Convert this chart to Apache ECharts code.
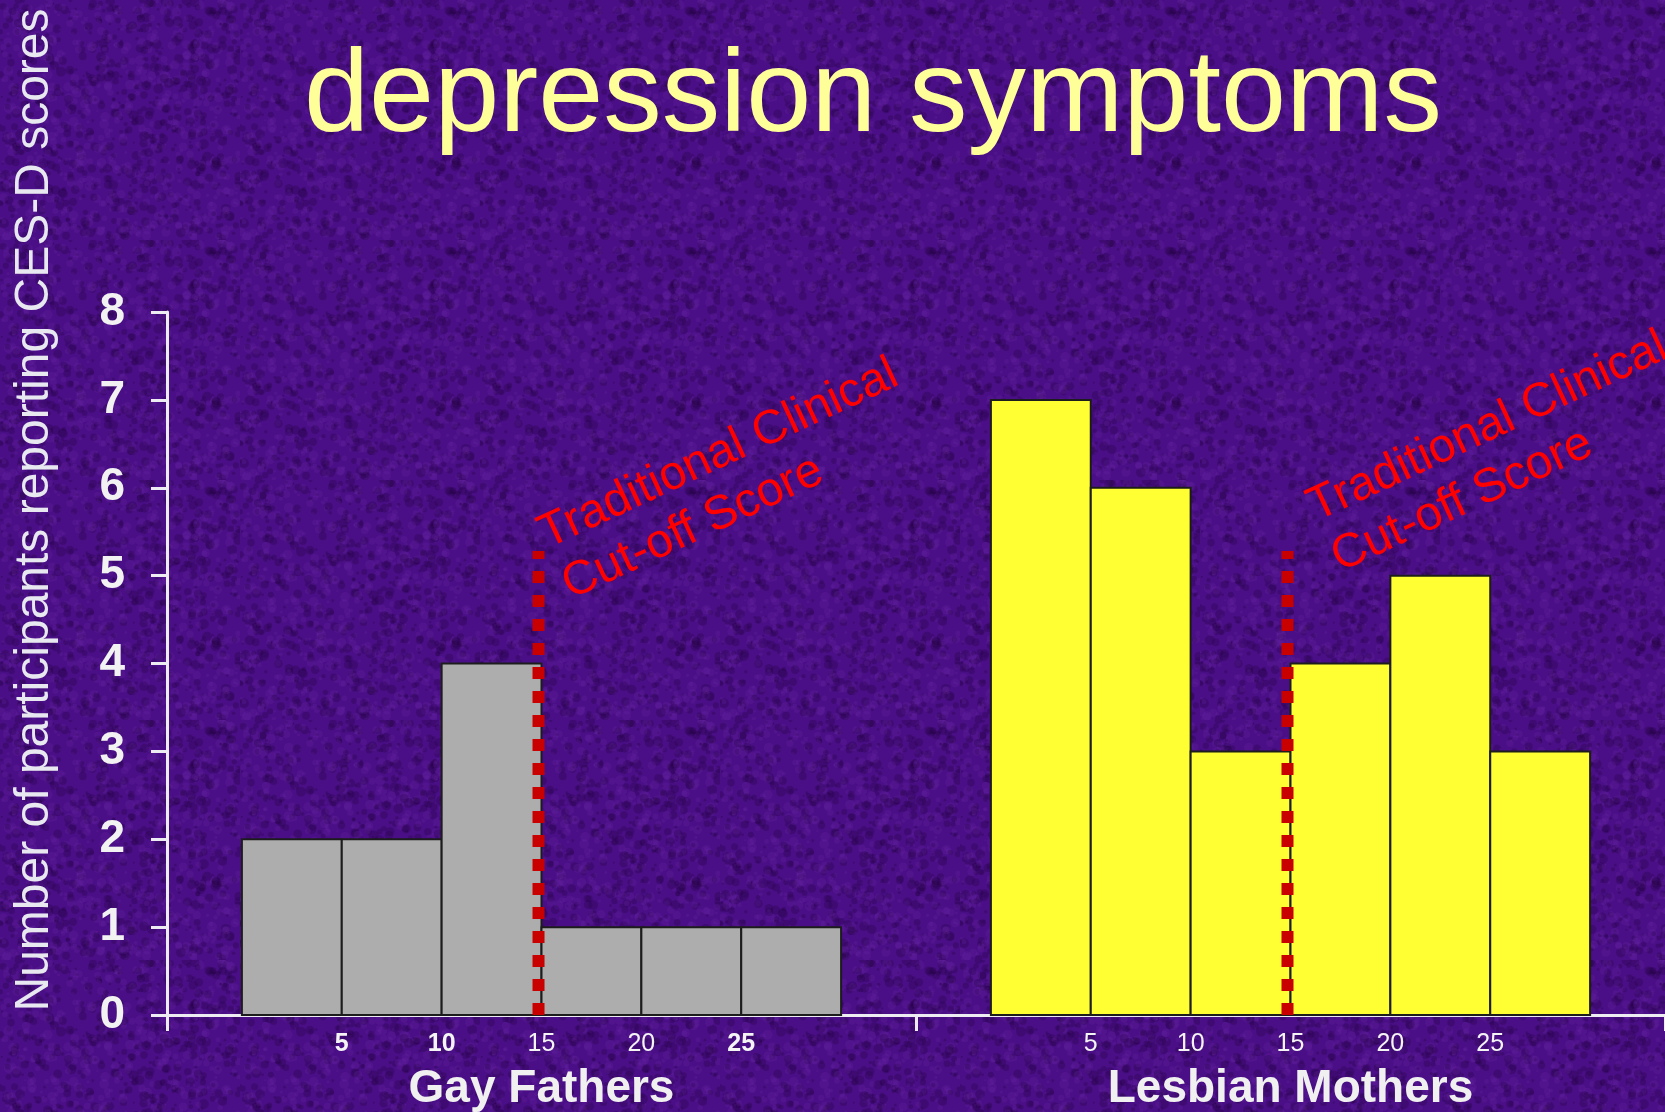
<!DOCTYPE html>
<html>
<head>
<meta charset="utf-8">
<title>depression symptoms</title>
<script src="https://cdn.jsdelivr.net/npm/echarts@6/dist/echarts.min.js"></script>
<style>
    html, body { margin: 0; padding: 0; background: #4a0f86; }
    #chart { width: 1665px; height: 1112px; }
</style>
</head>
<body>
<div id="chart"></div>
<script>
    // CES-D score bins and number of participants in each
    var binEdges = [0, 5, 10, 15, 20, 25, 30];
    var gayFathers = [2, 2, 4, 1, 1, 1];
    var lesbianMothers = [7, 6, 3, 4, 5, 3];
    var groupNames = ['Gay Fathers', 'Lesbian Mothers'];
    var binLabels = [5, 10, 15, 20, 25];
    var boldBinLabels = [[5, 10, 25], []];
    var cutoffScore = 14.85;
    var cutoffTop = 5.28;
    var noteAnchors = [[14.41, 5.73], [15.42, 6.04]];

    var FONT = '"Liberation Sans", Arial, Helvetica, sans-serif';
    var AXIS_COLOR = '#ececf2';
    var X_MIN = -3.75, X_MAX = 33.75;

    // textured purple backdrop (deterministic speckle)
    (function () {
        var c = document.createElement('canvas');
        c.width = 240; c.height = 240;
        var g = c.getContext('2d');
        g.fillStyle = '#4a0f86';
        g.fillRect(0, 0, 240, 240);
        var seed = 7;
        function rnd() { seed = (seed * 16807) % 2147483647; return seed / 2147483647; }
        for (var i = 0; i < 1400; i++) {
            var x = rnd() * 240, y = rnd() * 240, r = 1 + rnd() * 4;
            var dark = rnd() < 0.55;
            g.fillStyle = dark ? 'rgba(30,0,60,0.25)' : 'rgba(110,40,170,0.22)';
            g.beginPath();
            g.arc(x, y, r, 0, Math.PI * 2);
            g.fill();
        }
        document.getElementById('chart').style.background = 'url(' + c.toDataURL() + ')';
    })();

    function binData(counts) {
        var res = [];
        for (var i = 0; i < counts.length; i++) {
            res.push([binEdges[i], binEdges[i + 1], counts[i]]);
        }
        return res;
    }

    function renderBin(params, api) {
        var p0 = api.coord([api.value(0), 0]);
        var p1 = api.coord([api.value(1), api.value(2)]);
        return {
            type: 'rect',
            shape: { x: p0[0], y: p1[1], width: p1[0] - p0[0], height: p0[1] - p1[1] },
            style: { fill: api.visual('color'), stroke: '#1c1c1c', lineWidth: 2 }
        };
    }

    function renderNote(params, api) {
        var p = api.coord([api.value(0), api.value(1)]);
        return {
            type: 'text',
            x: p[0],
            y: p[1],
            rotation: 25 * Math.PI / 180,
            style: {
                text: 'Traditional Clinical\nCut-off Score',
                fill: '#ff0000',
                fontSize: 48,
                fontFamily: FONT,
                lineHeight: 56,
                align: 'left',
                verticalAlign: 'top'
            }
        };
    }

    function groupXAxis(i) {
        return {
            type: 'value',
            gridIndex: i,
            min: X_MIN,
            max: X_MAX,
            name: groupNames[i],
            nameLocation: 'middle',
            nameGap: 51,
            nameTextStyle: { color: '#f0f0f0', fontSize: 46, fontWeight: 'bold', fontFamily: FONT },
            axisLine: { show: true, onZero: false, lineStyle: { color: AXIS_COLOR, width: 3 } },
            axisTick: {
                show: true,
                customValues: i === 0 ? [X_MIN] : [X_MIN, X_MAX],
                length: 16,
                lineStyle: { color: AXIS_COLOR, width: 3 }
            },
            axisLabel: {
                customValues: binLabels,
                margin: 17,
                formatter: function (v) {
                    return boldBinLabels[i].indexOf(v) >= 0 ? '{b|' + v + '}' : '{r|' + v + '}';
                },
                rich: {
                    b: { color: '#f4f4f4', fontSize: 25, fontWeight: 'bold', fontFamily: FONT },
                    r: { color: '#f4f4f4', fontSize: 25, fontFamily: FONT }
                }
            },
            splitLine: { show: false }
        };
    }

    function groupYAxis(i) {
        return {
            type: 'value',
            gridIndex: i,
            min: 0,
            max: 8,
            interval: 1,
            show: i === 0,
            axisLine: { show: true, onZero: false, lineStyle: { color: AXIS_COLOR, width: 3 } },
            axisTick: { show: true, length: 16, lineStyle: { color: AXIS_COLOR, width: 3 } },
            axisLabel: { color: '#f2f2f2', fontSize: 46, fontWeight: 'bold', fontFamily: FONT, margin: 42 },
            splitLine: { show: false }
        };
    }

    function cutoffSeries(i) {
        return {
            type: 'line',
            xAxisIndex: i,
            yAxisIndex: i,
            data: [[cutoffScore, 0], [cutoffScore, cutoffTop]],
            symbol: 'none',
            silent: true,
            z: 5,
            lineStyle: { color: '#c80000', width: 12, type: [12, 12], cap: 'butt' }
        };
    }

    var chart = echarts.init(document.getElementById('chart'), null, { renderer: 'canvas' });
    chart.setOption({
        backgroundColor: 'transparent',
        animation: false,
        grid: [
            { left: 167, top: 312, width: 749, bottom: 97, outerBoundsMode: 'none' },
            { left: 916, top: 312, width: 749, bottom: 97, outerBoundsMode: 'none' }
        ],
        xAxis: [groupXAxis(0), groupXAxis(1)],
        yAxis: [groupYAxis(0), groupYAxis(1)],
        graphic: [
            {
                type: 'text',
                x: 873,
                y: 99,
                style: {
                    text: 'depression symptoms',
                    fill: '#ffff99',
                    fontSize: 117,
                    fontFamily: FONT,
                    align: 'center',
                    verticalAlign: 'middle'
                }
            },
            {
                type: 'text',
                x: 35,
                y: 510,
                rotation: Math.PI / 2,
                style: {
                    text: 'Number of participants reporting CES-D scores',
                    fill: '#e8e8f0',
                    fontSize: 48,
                    fontFamily: FONT,
                    align: 'center',
                    verticalAlign: 'middle'
                }
            }
        ],
        series: [
            {
                name: groupNames[0],
                type: 'custom',
                xAxisIndex: 0,
                yAxisIndex: 0,
                itemStyle: { color: '#adadad' },
                renderItem: renderBin,
                data: binData(gayFathers)
            },
            {
                name: groupNames[1],
                type: 'custom',
                xAxisIndex: 1,
                yAxisIndex: 1,
                itemStyle: { color: '#ffff33' },
                renderItem: renderBin,
                data: binData(lesbianMothers)
            },
            cutoffSeries(0),
            cutoffSeries(1),
            {
                type: 'custom',
                xAxisIndex: 0,
                yAxisIndex: 0,
                renderItem: renderNote,
                silent: true,
                z: 6,
                data: [noteAnchors[0]]
            },
            {
                type: 'custom',
                xAxisIndex: 1,
                yAxisIndex: 1,
                renderItem: renderNote,
                silent: true,
                z: 6,
                data: [noteAnchors[1]]
            }
        ]
    });
</script>
</body>
</html>
